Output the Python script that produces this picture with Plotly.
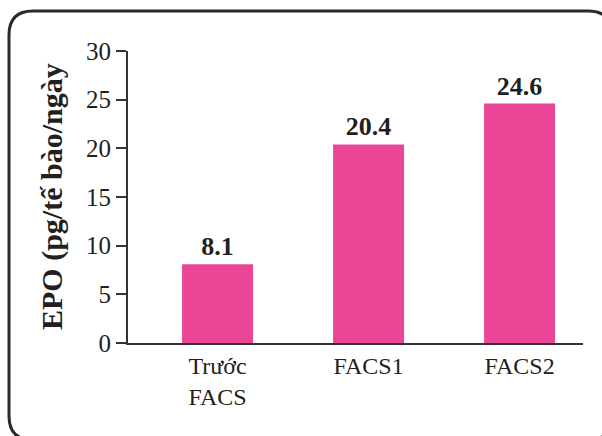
import plotly.graph_objects as go

# EPO secretion per cell before and after FACS sorting
categories = ["Trước<br>FACS", "FACS1", "FACS2"]
epo_values = [8.1, 20.4, 24.6]
y_ticks = [0, 5, 10, 15, 20, 25, 30]

W, H = 602, 436
L, R, T, B = 128, 19, 51, 93
plot_w = W - L - R
plot_h = H - T - B

FONT = "Liberation Serif"
INK = "#231f20"
PINK = "#eb4598"


def px(x):
    return (x - L) / plot_w


def py(y):
    return (H - B - y) / plot_h


def frame_path(x0, y0, x1, y1, r):
    pts = [
        ("M", [(x0 + r, y0)]),
        ("L", [(x1 - r, y0)]),
        ("Q", [(x1, y0), (x1, y0 + r)]),
        ("L", [(x1, y1 - r)]),
        ("Q", [(x1, y1), (x1 - r, y1)]),
        ("L", [(x0 + r, y1)]),
        ("Q", [(x0, y1), (x0, y1 - r)]),
        ("L", [(x0, y0 + r)]),
        ("Q", [(x0, y0), (x0 + r, y0)]),
    ]
    out = []
    for cmd, coords in pts:
        out.append(cmd + " " + " ".join(f"{px(a):.5f},{py(b):.5f}" for a, b in coords))
    return " ".join(out) + " Z"


fig = go.Figure(
    go.Bar(
        x=list(range(len(categories))),
        y=epo_values,
        width=0.47,
        marker=dict(color=PINK, line=dict(width=0)),
        text=[f"{v:.1f}" for v in epo_values],
        textposition="outside",
        textfont=dict(family=FONT, size=26, color=INK, weight="bold"),
        cliponaxis=False,
    )
)

fig.update_layout(
    width=W,
    height=H,
    margin=dict(l=L, r=R, t=T, b=B, autoexpand=False),
    paper_bgcolor="white",
    plot_bgcolor="white",
    showlegend=False,
    font=dict(family=FONT, color=INK),
    xaxis=dict(
        range=[-0.593, 2.42],
        tickmode="array",
        tickvals=list(range(len(categories))),
        ticktext=categories,
        ticks="",
        showline=True,
        linewidth=2,
        linecolor="#333333",
        showgrid=False,
        zeroline=False,
        tickfont=dict(family=FONT, size=24, color=INK),
        fixedrange=True,
    ),
    yaxis=dict(
        range=[0, 30],
        tickmode="array",
        tickvals=y_ticks,
        ticktext=[str(t) for t in y_ticks],
        ticks="outside",
        ticklen=10,
        tickwidth=2,
        tickcolor="#333333",
        showline=True,
        linewidth=2,
        linecolor="#333333",
        showgrid=False,
        zeroline=False,
        tickfont=dict(family=FONT, size=25, color=INK),
        fixedrange=True,
    ),
    annotations=[
        dict(
            text="EPO (pg/tế bào/ngày",
            xref="paper",
            yref="paper",
            x=px(52),
            y=0.5,
            xanchor="center",
            yanchor="middle",
            textangle=-90,
            showarrow=False,
            font=dict(family=FONT, size=30, color=INK, weight="bold"),
        )
    ],
    shapes=[
        dict(
            type="path",
            xref="paper",
            yref="paper",
            path=frame_path(9, 11, 612, 440, 24),
            line=dict(color="#2a2a2a", width=3),
            fillcolor="rgba(0,0,0,0)",
            layer="above",
        )
    ],
)

fig.write_html("out.html")
